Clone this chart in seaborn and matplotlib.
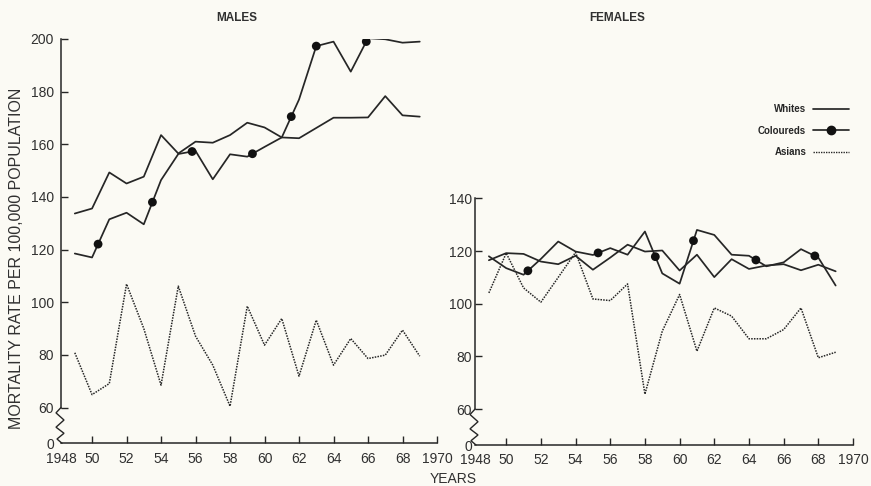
import numpy as np
import pandas as pd
import matplotlib
matplotlib.use("Agg")
import matplotlib.pyplot as plt
from matplotlib.lines import Line2D
import seaborn as sns

# ---- data (mortality rate per 100,000 population) ----
years = list(range(1949, 1970))

male_whites = [133.7, 135.6, 149.3, 145.1, 147.7, 163.5, 156.5, 161.0, 160.6, 163.5,
               168.2, 166.4, 162.6, 162.3, 166.2, 170.1, 170.1, 170.2, 178.3, 171.0, 170.5]
male_coloureds = [118.5, 117.0, 131.5, 134.0, 129.6, 146.4, 156.3, 157.5, 146.7, 156.2,
                  155.3, 159.0, 162.6, 177.0, 197.3, 199.0, 187.6, 200.3, 199.9, 198.6, 199.0]
male_asians = [80.8, 64.9, 69.1, 106.9, 90.0, 68.5, 106.1, 87.1, 76.1, 60.5,
               98.5, 83.7, 93.8, 71.9, 93.2, 76.1, 86.2, 78.6, 79.9, 89.4, 79.5]

female_whites = [116.5, 119.2, 118.9, 116.0, 115.0, 118.2, 112.9, 117.5, 122.4, 119.8,
                 120.2, 112.6, 118.6, 110.1, 116.9, 113.2, 114.5, 115.0, 112.7, 114.8, 112.3]
female_coloureds = [118.0, 113.5, 111.0, 117.0, 123.6, 119.8, 118.5, 121.1, 118.6, 127.4,
                    111.5, 107.6, 128.0, 126.1, 118.6, 118.2, 114.2, 115.7, 120.7, 117.5, 106.9]
female_asians = [104.1, 119.2, 106.0, 100.6, 110.0, 119.5, 101.8, 101.2, 107.5, 65.7,
                 89.6, 103.5, 82.0, 98.4, 95.3, 86.7, 86.7, 90.2, 98.4, 79.5, 81.6]

# years at which the Coloureds symbol is drawn along its line
male_dot_years = [1950.35, 1953.5, 1955.8, 1959.3, 1961.55, 1963.0, 1965.9]
female_dot_years = [1951.25, 1955.3, 1958.6, 1960.8, 1964.4, 1967.8]

groups = ["Whites", "Coloureds", "Asians"]
x_tick_years = list(range(1950, 1971, 2))
x_tick_labels = ["1948"] + ["50", "52", "54", "56", "58", "60", "62", "64", "66", "68", "1970"]
male_yticks = [60, 80, 100, 120, 140, 160, 180, 200]
female_yticks = [60, 80, 100, 120, 140]

# ---- long-form table ----
rows = []
for sex, series in (("Males", (male_whites, male_coloureds, male_asians)),
                    ("Females", (female_whites, female_coloureds, female_asians))):
    for grp, vals in zip(groups, series):
        for yr, v in zip(years, vals):
            rows.append({"sex": sex, "group": grp, "year": yr, "rate": v})
df = pd.DataFrame(rows)

# ---- style ----
sns.set_theme(style="ticks")
BG = "#fbfaf4"
INK = "#262626"
TEXT = "#303030"
plt.rcParams["font.family"] = ["Liberation Sans", "DejaVu Sans"]
plt.rcParams["axes.facecolor"] = BG
plt.rcParams["figure.facecolor"] = BG

W, H = 871, 486
fig = plt.figure(figsize=(W / 100, H / 100), dpi=100)

X0 = 1948.2
GAP = 13.6   # visual height of the broken part of the y axis (below 60)

def make_axes(left_px, right_px, top_px, bottom_px):
    return fig.add_axes([left_px / W, 1 - bottom_px / H,
                         (right_px - left_px) / W, (bottom_px - top_px) / H])

ax_m = make_axes(61, 437, 39, 443.3)
ax_f = make_axes(475, 853, 198.3, 445)

line_styles = {
    "Whites": dict(linestyle="-", linewidth=1.25),
    "Coloureds": dict(linestyle="-", linewidth=1.25),
    "Asians": dict(linestyle=(0, (1, 0.8)), linewidth=1.1),
}

def draw_panel(ax, sex, top, yticks, dot_years, label_pad):
    sub = df[df["sex"] == sex]
    for grp in groups:
        d = sub[sub["group"] == grp]
        sns.lineplot(data=d, x="year", y="rate", ax=ax, color=INK,
                     legend=False, **line_styles[grp])
    col = sub[sub["group"] == "Coloureds"]
    dot_vals = np.interp(dot_years, col["year"], col["rate"])
    sns.scatterplot(x=dot_years, y=dot_vals, ax=ax, color="#111111",
                    s=40, edgecolor="none", zorder=5, legend=False)

    bottom = 60 - GAP
    ax.set_xlim(X0, 1970)
    ax.set_ylim(bottom, top)
    ax.set_xticks([X0] + x_tick_years)
    ax.set_xticklabels(x_tick_labels)
    ax.set_yticks([bottom] + yticks)
    ax.set_yticklabels(["0"] + [str(t) for t in yticks])
    ax.xaxis.get_major_ticks()[0].tick1line.set_visible(False)
    ax.yaxis.get_major_ticks()[0].tick1line.set_visible(False)
    ax.tick_params(direction="in", length=5, width=1, color=INK,
                   labelcolor=TEXT, labelsize=10)
    ax.tick_params(axis="y", pad=label_pad)
    ax.tick_params(axis="x", pad=6)
    ax.set_xlabel("")
    ax.set_ylabel("")
    for s in ("top", "right"):
        ax.spines[s].set_visible(False)
    for s in ("left", "bottom"):
        ax.spines[s].set_color(INK)
        ax.spines[s].set_linewidth(1.1)
    ax.spines["left"].set_bounds(60, top)

    # zigzag marking the break of the y axis between 0 and 60
    ax_w_px = ax.get_position().width * W
    zx = np.array([0, -5, 3, -5, 3, -4, 1]) / ax_w_px
    zf = np.array([0, 0.15, 0.35, 0.55, 0.72, 0.88, 1.0])
    zy = 60 - zf * GAP
    ax.plot(zx, zy, color=INK, lw=1.0, transform=ax.get_yaxis_transform(),
            clip_on=False, solid_joinstyle="miter")

draw_panel(ax_m, "Males", 200, male_yticks, male_dot_years, 5)
draw_panel(ax_f, "Females", 140, female_yticks, female_dot_years, 2)

# ---- titles and axis captions ----
title_font = dict(family=["Liberation Sans", "DejaVu Sans"], weight="bold",
                  size=8.5, color=TEXT)
fig.text(237 / W, 1 - 18 / H, "MALES", ha="center", va="center", **title_font)
fig.text(617 / W, 1 - 18 / H, "FEMALES", ha="center", va="center", **title_font)

fig.text(17 / W, 1 - 258 / H, "MORTALITY RATE PER 100,000 POPULATION",
         rotation=90, ha="center", va="center", size=11.5, color=TEXT)
fig.text(453 / W, 1 - 479 / H, "YEARS", ha="center", va="center",
         size=10, color=TEXT)

# ---- key ----
handles = [
    Line2D([], [], color=INK, lw=1.25),
    Line2D([], [], color=INK, lw=1.25, marker="o", markersize=6,
           markerfacecolor="#111111", markeredgecolor="#111111"),
    Line2D([], [], color=INK, lw=1.0, linestyle=(0, (1, 0.8))),
]
fig.legend(handles, groups, loc="upper right", bbox_to_anchor=(849 / W, 1 - 104 / H),
           frameon=False, markerfirst=False, handlelength=3.7, handletextpad=0.7,
           labelspacing=1.2, borderpad=0, borderaxespad=0, numpoints=1,
           prop=dict(family=["Liberation Sans", "DejaVu Sans"],
                     weight="bold", size=7))

fig.savefig("out.png", dpi=100, facecolor=BG)
